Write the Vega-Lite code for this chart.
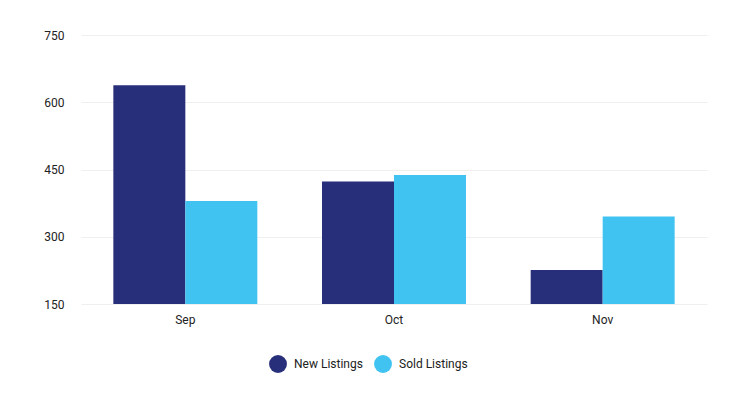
{
  "$schema": "https://vega.github.io/schema/vega-lite/v6.json",
  "width": 626,
  "height": 269,
  "autosize": {"type": "none"},
  "padding": {"left": 81, "top": 35, "right": 31, "bottom": 111},
  "background": "white",
  "config": {
    "view": {"stroke": null},
    "font": "Roboto",
    "axis": {"labelFont": "Roboto", "labelFontSize": 12, "labelColor": "#222222", "domain": false, "ticks": false, "title": null},
    "legend": {"labelFont": "Roboto", "labelFontSize": 12, "labelColor": "#222222"}
  },
  "data": {
    "values": [
      {"month": "Sep", "series": "New Listings", "value": 638},
      {"month": "Sep", "series": "Sold Listings", "value": 380},
      {"month": "Oct", "series": "New Listings", "value": 423},
      {"month": "Oct", "series": "Sold Listings", "value": 438},
      {"month": "Nov", "series": "New Listings", "value": 226},
      {"month": "Nov", "series": "Sold Listings", "value": 345}
    ]
  },
  "mark": {"type": "bar"},
  "encoding": {
    "x": {
      "field": "month", "type": "nominal", "sort": ["Sep", "Oct", "Nov"],
      "scale": {"paddingInner": 0.31, "paddingOuter": 0.155},
      "axis": {"labelAngle": 0, "grid": false, "labelPadding": 10}
    },
    "xOffset": {"field": "series", "type": "nominal", "scale": {"paddingInner": 0, "paddingOuter": 0}},
    "y": {
      "field": "value", "type": "quantitative",
      "scale": {"domain": [150, 750], "zero": false, "nice": false},
      "axis": {"values": [150, 300, 450, 600, 750], "gridColor": "#efefef", "gridWidth": 1, "labelPadding": 17}
    },
    "y2": {"datum": 150},
    "color": {
      "field": "series", "type": "nominal",
      "scale": {"domain": ["New Listings", "Sold Listings"], "range": ["#282F7A", "#41C3F2"]},
      "legend": {"title": null, "orient": "none", "direction": "horizontal", "legendX": 187, "legendY": 319, "symbolType": "circle", "symbolSize": 320, "columnPadding": 10, "labelOffset": 6}
    }
  }
}
